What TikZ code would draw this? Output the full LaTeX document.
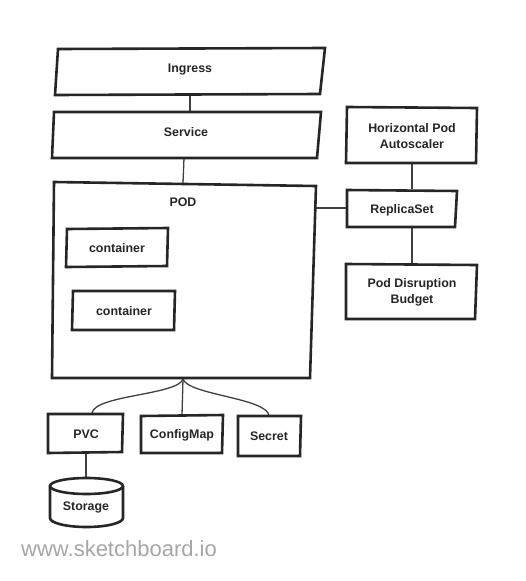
\documentclass[tikz,border=0pt]{standalone}
\usepackage{fontspec}
\setmainfont{Liberation Sans}
\begin{document}
\begin{tikzpicture}[x=1pt,y=-1pt,
  box/.style={draw=black!85,line width=2.6pt,line join=miter,fill=white},
  conn/.style={draw=black!75,line width=1.3pt},
  lbl/.style={font=\bfseries\fontsize{12.4}{14}\selectfont,text=black!85,align=center,inner sep=0pt}]
\useasboundingbox (0,0) rectangle (526,581);
% Ingress
\coordinate (in1) at (58,49); \coordinate (in2) at (325,48); \coordinate (in3) at (320,94); \coordinate (in4) at (55,95);
% Service
\coordinate (sv1) at (54,112); \coordinate (sv2) at (321,112); \coordinate (sv3) at (317,158); \coordinate (sv4) at (52,158);
% POD
\coordinate (pd1) at (54,182); \coordinate (pd2) at (316,186); \coordinate (pd3) at (310,378); \coordinate (pd4) at (52,378);
% connectors first
\coordinate (inB) at (190,95); \coordinate (svT) at (190,112);
\coordinate (svB) at (184,158); \coordinate (pdT) at (183,183);
\draw[conn] (inB) -- (svT);
\draw[conn] (svB) -- (pdT);
\coordinate (pdR) at (316,208); \coordinate (rsL) at (347,208);
\draw[conn] (pdR) -- (rsL);
\coordinate (hpB) at (412,163); \coordinate (rsT) at (412,189);
\coordinate (rsB) at (412,227); \coordinate (pbT) at (412,264);
\draw[conn] (hpB) -- (rsT);
\draw[conn] (rsB) -- (pbT);
\coordinate (pdB) at (183,379);
\coordinate (pvT) at (92,413); \coordinate (cmT) at (182,415); \coordinate (scT) at (269,416);
\draw[conn] (pdB) .. controls (178,395) and (95,395) .. (pvT);
\draw[conn] (pdB) -- (cmT);
\draw[conn] (pdB) .. controls (188,395) and (268,398) .. (scT);
\coordinate (pvB) at (86,453); \coordinate (stT) at (86,478);
\draw[conn] (pvB) -- (stT);
% shapes
\draw[box] (in1) -- (in2) -- (in3) -- (in4) -- cycle;
\node[lbl] (ingress) at (190,70) {Ingress};
\draw[box] (sv1) -- (sv2) -- (sv3) -- (sv4) -- cycle;
\node[lbl] (service) at (186,132) {Service};
\draw[box] (pd1) -- (pd2) -- (pd3) -- (pd4) -- cycle;
\node[lbl] (pod) at (183,202) {POD};
\draw[box] (67,229) -- (168,228) -- (167,266) -- (66,267) -- cycle;
\node[lbl] (c1) at (117,248) {container};
\draw[box] (73,291) -- (175,291) -- (174,330) -- (72,330) -- cycle;
\node[lbl] (c2) at (124,311) {container};
\draw[box] (347,107) -- (477,108) -- (476,163) -- (346,163) -- cycle;
\node[lbl] (hpa) at (412,136) {Horizontal Pod\\[2pt]Autoscaler};
\draw[box] (347,190) -- (457,191) -- (455,227) -- (347,227) -- cycle;
\node[lbl] (rs) at (402,210) {ReplicaSet};
\draw[box] (346,264) -- (477,265) -- (475,319) -- (346,319) -- cycle;
\node[lbl] (pdb) at (412,292) {Pod Disruption\\[2pt]Budget};
\draw[box] (48,414) -- (123,414) -- (122,452) -- (48,453) -- cycle;
\node[lbl] (pvc) at (86,434) {PVC};
\draw[box] (141,416) -- (223,415) -- (222,453) -- (141,453) -- cycle;
\node[lbl] (cm) at (182,435) {ConfigMap};
\draw[box] (238,416) -- (301,416) -- (300,456) -- (238,456) -- cycle;
\node[lbl] (sec) at (269,436) {Secret};
% Storage cylinder
\draw[box] (50,486) -- (50,518)
  arc[start angle=180,end angle=360,x radius=36.5,y radius=-9] -- (123,486);
\draw[box] (86.5,486) ellipse[x radius=36.5,y radius=8];
\node[lbl] (st) at (86,507) {Storage};
% watermark
\node[anchor=west,inner sep=0pt,text=black!35,font=\fontsize{22}{24}\selectfont] (wm) at (21,549) {www.sketchboard.io};
\end{tikzpicture}
\end{document}
